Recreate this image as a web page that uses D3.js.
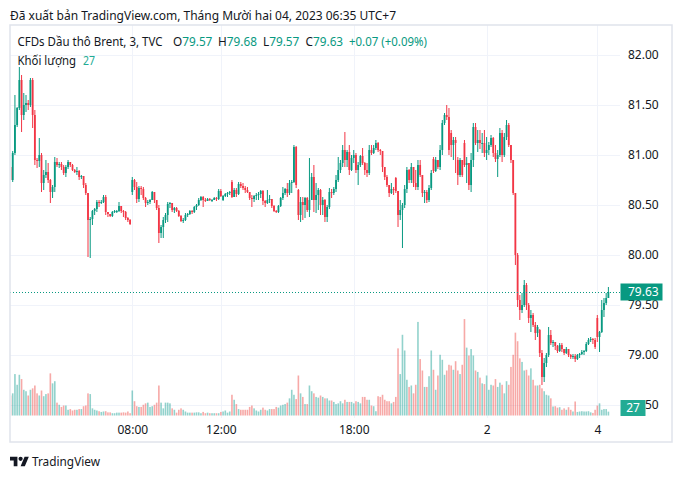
<!DOCTYPE html>
<html><head><meta charset="utf-8">
<script src="https://cdn.jsdelivr.net/npm/d3@7"></script>
<style>body{margin:0;background:#fff}svg{display:block}</style>
</head><body>
<svg id="c" width="682" height="479"></svg>
<script>
// ---- DATA (6-minute aggregation of the 3-min candles; index 0 = 02:30 Dec 1, 265 = 06:00 Dec 4) ----
const opens = [80.88,80.75,81.02,81.30,81.47,81.75,81.40,81.50,81.52,81.50,81.75,81.40,80.95,80.94,81.00,80.72,80.80,80.83,80.75,80.63,
80.68,80.93,80.90,80.91,80.88,80.82,80.88,80.93,80.90,80.85,80.83,80.84,80.78,80.79,80.70,80.62,80.35,80.36,80.44,80.46,
80.53,80.52,80.53,80.58,80.43,80.41,80.39,80.43,80.44,80.44,80.49,80.44,80.43,80.37,80.35,80.63,80.75,80.68,80.56,80.67,
80.66,80.57,80.52,80.53,80.55,80.63,80.55,80.47,80.22,80.28,80.35,80.40,80.51,80.52,80.45,80.47,80.44,80.39,80.34,80.35,
80.40,80.41,80.44,80.43,80.48,80.50,80.55,80.58,80.55,80.54,80.56,80.55,80.55,80.57,80.56,80.64,80.55,80.59,80.61,80.62,
80.73,80.58,80.65,80.61,80.71,80.69,80.67,80.65,80.63,80.57,80.56,80.59,80.60,80.61,80.64,80.54,80.52,80.55,80.56,80.49,
80.44,80.43,80.49,80.57,80.62,80.66,80.62,80.72,80.73,81.08,80.65,80.40,80.53,80.50,80.57,80.45,80.55,80.78,80.55,80.60,
80.65,80.50,80.55,80.38,80.48,80.63,80.62,80.66,80.75,80.85,80.92,81.05,80.95,81.03,80.85,80.97,81.00,80.85,80.90,80.99,
80.92,80.85,80.82,81.05,81.02,81.07,81.12,81.05,81.04,80.88,80.78,80.70,80.62,80.66,80.77,80.64,80.40,80.45,80.50,80.66,
80.85,80.75,80.88,80.72,80.68,80.90,80.80,80.62,80.63,80.55,80.67,80.96,80.84,80.95,80.88,81.05,81.32,81.40,81.38,81.22,
81.10,81.15,80.95,80.80,80.95,81.12,80.90,80.92,80.70,80.95,81.28,81.12,81.15,81.12,81.12,81.02,81.05,81.10,81.17,81.02,
80.96,81.00,81.22,81.00,81.18,81.30,81.10,80.95,80.62,80.00,79.55,79.45,79.50,79.70,79.50,79.37,79.40,79.30,79.22,79.25,
79.02,78.78,78.92,79.00,79.20,79.12,79.13,79.09,79.04,79.10,79.06,79.02,79.06,79.00,78.98,78.99,78.96,79.00,79.01,79.03,
79.04,79.11,79.15,79.16,79.15,79.37,79.18,79.23,79.45,79.52,79.57];
const highs = [80.92,81.04,81.60,81.48,81.88,81.80,81.62,81.60,81.55,81.77,81.77,81.45,80.97,81.17,81.02,80.85,80.95,80.92,80.76,80.70,
80.98,80.97,80.93,80.93,80.90,80.90,80.95,80.93,80.91,80.86,80.88,80.85,80.80,80.79,80.72,80.62,80.38,80.45,80.47,80.55,
80.55,80.55,80.60,80.60,80.43,80.41,80.44,80.45,80.45,80.53,80.49,80.45,80.44,80.38,80.36,80.78,80.76,80.73,80.69,80.69,
80.68,80.58,80.55,80.56,80.64,80.63,80.55,80.50,80.30,80.38,80.42,80.53,80.53,80.52,80.48,80.48,80.45,80.40,80.37,80.42,
80.42,80.45,80.45,80.49,80.51,80.57,80.59,80.59,80.57,80.57,80.57,80.56,80.58,80.58,80.66,80.66,80.60,80.62,80.63,80.64,
80.75,80.67,80.67,80.73,80.73,80.72,80.69,80.68,80.63,80.60,80.60,80.62,80.63,80.65,80.65,80.55,80.65,80.60,80.56,80.50,
80.45,80.50,80.58,80.68,80.67,80.72,80.75,80.75,81.10,81.09,80.66,80.58,80.58,80.58,80.58,80.97,80.82,80.90,80.72,80.67,
80.66,80.58,80.56,80.50,80.67,80.66,80.68,80.80,80.98,80.95,81.10,81.23,81.05,81.10,81.00,81.05,81.02,80.93,81.00,81.07,
80.93,80.92,81.10,81.10,81.10,81.15,81.13,81.06,81.04,80.88,80.80,80.70,80.72,80.68,80.78,80.64,80.55,80.52,80.70,80.88,
80.86,80.92,80.88,80.85,80.95,80.95,80.80,80.65,80.65,80.70,80.85,80.98,80.98,80.95,81.10,81.35,81.42,81.50,81.47,81.25,
81.18,81.18,80.98,80.97,80.95,81.15,80.98,80.92,81.02,81.32,81.32,81.25,81.25,81.22,81.25,81.18,81.13,81.20,81.18,81.10,
81.05,81.27,81.25,81.22,81.35,81.32,81.10,80.95,80.62,80.02,79.60,79.62,79.75,79.72,79.52,79.45,79.42,79.33,79.30,79.26,
79.05,78.97,79.02,79.28,79.25,79.15,79.13,79.10,79.12,79.12,79.06,79.08,79.06,79.01,79.01,79.01,79.01,79.02,79.05,79.05,
79.13,79.17,79.18,79.17,79.17,79.40,79.24,79.55,79.57,79.62,79.68];
const lows = [80.73,80.73,81.00,81.28,81.45,81.23,81.35,81.43,81.45,81.48,81.27,80.90,80.87,80.88,80.63,80.65,80.77,80.72,80.52,80.57,
80.63,80.88,80.87,80.85,80.80,80.78,80.86,80.88,80.84,80.82,80.80,80.75,80.76,80.67,80.60,79.98,79.97,80.30,80.40,80.43,
80.48,80.51,80.52,80.40,80.38,80.38,80.38,80.42,80.42,80.43,80.42,80.38,80.35,80.33,80.30,80.60,80.65,80.52,80.53,80.60,
80.55,80.48,80.50,80.51,80.55,80.52,80.45,80.12,80.17,80.17,80.32,80.33,80.47,80.43,80.42,80.43,80.38,80.33,80.32,80.34,
80.38,80.40,80.41,80.42,80.45,80.49,80.54,80.48,80.53,80.54,80.54,80.53,80.55,80.54,80.55,80.58,80.54,80.58,80.58,80.60,
80.57,80.58,80.58,80.60,80.67,80.65,80.62,80.62,80.55,80.48,80.53,80.55,80.55,80.57,80.50,80.48,80.51,80.52,80.47,80.43,
80.42,80.42,80.48,80.55,80.60,80.58,80.60,80.62,80.72,80.67,80.35,80.33,80.35,80.37,80.43,80.38,80.55,80.43,80.42,80.45,
80.40,80.40,80.33,80.33,80.46,80.57,80.60,80.63,80.73,80.82,80.88,80.88,80.88,80.80,80.84,80.92,80.82,80.70,80.88,80.90,
80.80,80.78,80.80,81.00,81.01,81.05,81.03,81.00,80.83,80.75,80.68,80.58,80.61,80.60,80.62,80.28,80.35,80.07,80.47,80.62,
80.72,80.72,80.68,80.65,80.65,80.78,80.58,80.52,80.52,80.53,80.65,80.82,80.83,80.86,80.85,81.00,81.30,81.35,81.00,80.98,
80.95,80.82,80.70,80.78,80.78,80.88,80.72,80.65,80.63,80.88,81.10,81.03,81.06,81.02,80.98,80.95,81.00,81.08,80.98,80.93,
80.78,80.98,80.93,80.98,81.15,81.08,80.92,80.60,79.90,79.48,79.35,79.42,79.48,79.45,79.32,79.23,79.28,79.15,79.18,78.98,
78.70,78.73,78.88,78.98,79.10,79.08,79.05,79.02,79.03,79.03,79.00,79.01,78.98,78.96,78.96,78.93,78.95,78.97,79.00,79.00,
79.03,79.10,79.13,79.11,79.06,79.13,79.03,79.22,79.38,79.50,79.57];
const closes = [80.75,81.02,81.30,81.47,81.75,81.40,81.50,81.52,81.50,81.75,81.40,80.95,80.94,81.00,80.72,80.80,80.83,80.75,80.63,80.68,
80.93,80.90,80.91,80.88,80.82,80.88,80.93,80.90,80.85,80.83,80.84,80.78,80.79,80.70,80.62,80.35,80.36,80.44,80.46,80.53,
80.52,80.53,80.58,80.43,80.41,80.39,80.43,80.44,80.44,80.49,80.44,80.43,80.37,80.35,80.31,80.75,80.68,80.56,80.67,80.66,
80.57,80.52,80.53,80.55,80.63,80.55,80.47,80.22,80.28,80.35,80.40,80.51,80.52,80.45,80.47,80.44,80.39,80.34,80.35,80.40,
80.41,80.44,80.43,80.48,80.50,80.55,80.58,80.55,80.54,80.56,80.55,80.55,80.57,80.56,80.64,80.59,80.59,80.61,80.62,80.63,
80.58,80.65,80.61,80.71,80.69,80.67,80.65,80.63,80.57,80.56,80.59,80.60,80.61,80.64,80.54,80.52,80.55,80.56,80.49,80.44,
80.43,80.49,80.57,80.62,80.66,80.62,80.72,80.73,81.08,80.70,80.40,80.53,80.50,80.57,80.45,80.55,80.78,80.55,80.60,80.65,
80.50,80.55,80.38,80.48,80.63,80.62,80.66,80.75,80.85,80.92,81.05,80.95,81.03,80.85,80.97,81.00,80.85,80.90,80.99,80.92,
80.85,80.82,81.05,81.02,81.07,81.12,81.05,81.04,80.88,80.78,80.70,80.62,80.66,80.65,80.64,80.40,80.45,80.50,80.66,80.85,
80.75,80.88,80.72,80.68,80.90,80.80,80.62,80.63,80.55,80.67,80.82,80.84,80.95,80.88,81.05,81.32,81.40,81.38,81.05,81.10,
81.15,81.12,80.80,80.95,80.80,80.90,80.92,80.70,80.95,81.28,81.12,81.15,81.12,81.12,81.02,81.05,81.10,81.17,81.02,80.96,
81.00,81.22,81.00,81.18,81.30,81.10,80.95,80.62,80.00,79.55,79.45,79.50,79.70,79.50,79.37,79.40,79.30,79.22,79.28,79.02,
78.78,78.92,79.00,79.20,79.12,79.13,79.09,79.04,79.10,79.06,79.02,79.06,79.00,78.98,78.99,78.96,79.00,79.01,79.03,79.04,
79.11,79.15,79.16,79.15,79.08,79.18,79.23,79.45,79.52,79.57,79.63];
const volumes = [140,155,290,215,285,255,180,170,140,180,190,210,155,140,175,135,150,155,295,225,
240,90,75,60,70,70,40,45,35,40,40,45,45,65,70,155,150,50,40,35,
30,25,28,30,22,22,16,16,20,20,20,22,20,28,16,175,100,65,60,60,
75,85,90,60,65,75,90,210,90,50,90,90,85,50,40,20,40,50,40,28,
20,20,20,20,22,22,16,25,16,20,16,16,16,16,16,25,28,35,20,28,
145,110,80,45,40,40,40,40,60,70,50,35,28,40,55,40,35,45,45,45,
60,55,70,75,80,90,120,180,145,115,280,155,130,80,80,210,170,155,130,125,
140,130,120,120,105,105,95,80,85,100,85,110,95,95,95,85,100,95,85,130,
130,110,110,70,65,30,135,130,145,110,100,100,85,95,130,470,290,565,455,250,
200,210,155,215,655,395,315,200,200,275,455,320,180,280,425,390,285,315,355,350,
320,380,315,290,355,675,475,420,465,420,315,305,265,225,220,280,180,215,210,255,
200,230,215,155,240,215,340,425,580,520,400,375,315,320,280,330,250,210,210,215,
190,170,145,140,120,63,65,55,58,40,50,40,58,40,28,98,25,28,30,28,
28,30,22,18,40,70,85,40,45,45,27];
const timeTickIdx = [55, 95, 155, 215, 265];
const timeTickLabels = ["08:00", "12:00", "18:00", "2", "4"];
const priceTicks = [82, 81.5, 81, 80.5, 80, 79.5, 79, 78.5];
const lastPrice = 79.63, lastVolume = 27;

// ---- DRAW ----
const FONT = "'Noto Sans', 'DejaVu Sans', sans-serif";
const UP = "#089981", DOWN = "#f23645", UPV = "rgba(38,166,154,0.5)", DOWNV = "rgba(239,83,80,0.5)";
const TXT = "#131722";
const svg = d3.select("#c");
svg.append("rect").attr("width", 682).attr("height", 479).attr("fill", "#fff");

const x = d3.scaleLinear().domain([0, 270]).range([10.5, 608.4]);
const y = d3.scaleLinear().domain([78.5, 82]).range([405, 55]);
const yv = d3.scaleLinear().domain([0, 700]).range([415.5, 315.5]);
const PL = 10, PR = 620, PT = 25, PB = 418;

// grid
const grid = svg.append("g");
grid.selectAll("line.h").data(priceTicks).join("line")
  .attr("x1", PL).attr("x2", PR)
  .attr("y1", d => Math.round(y(d)) + 0.5).attr("y2", d => Math.round(y(d)) + 0.5)
  .attr("stroke", "#f0f3fa").attr("stroke-width", 1);
grid.selectAll("line.v").data(timeTickIdx).join("line")
  .attr("x1", d => Math.round(x(d)) + 0.5).attr("x2", d => Math.round(x(d)) + 0.5)
  .attr("y1", PT).attr("y2", PB)
  .attr("stroke", "#f0f3fa").attr("stroke-width", 1);

svg.append("clipPath").attr("id", "plot").append("rect")
  .attr("x", PL + 1).attr("y", PT).attr("width", PR - PL - 1).attr("height", PB - PT);

const data = closes.map((c, i) => ({i, o: opens[i], h: highs[i], l: lows[i], c, v: volumes[i]}));
const plot = svg.append("g").attr("clip-path", "url(#plot)");

// volume
plot.append("g").selectAll("rect").data(data).join("rect")
  .attr("x", d => x(d.i) - 0.8).attr("width", 1.6)
  .attr("y", d => yv(d.v)).attr("height", d => yv(0) - yv(d.v))
  .attr("fill", d => d.c >= d.o ? UPV : DOWNV);

// candles
const cg = plot.append("g");
cg.selectAll("line").data(data).join("line")
  .attr("x1", d => x(d.i)).attr("x2", d => x(d.i))
  .attr("y1", d => y(d.h)).attr("y2", d => y(d.l))
  .attr("stroke", d => d.c >= d.o ? UP : DOWN).attr("stroke-width", 1);
cg.selectAll("rect").data(data).join("rect")
  .attr("x", d => x(d.i) - 0.9).attr("width", 1.8)
  .attr("y", d => y(Math.max(d.o, d.c)))
  .attr("height", d => Math.max(1, Math.abs(y(d.o) - y(d.c))))
  .attr("fill", d => d.c >= d.o ? UP : DOWN);

// last price dotted line
svg.append("line").attr("x1", PL).attr("x2", PR)
  .attr("y1", Math.round(y(lastPrice)) + 0.5).attr("y2", Math.round(y(lastPrice)) + 0.5)
  .attr("stroke", UP).attr("stroke-width", 1).attr("stroke-dasharray", "1,2");

// price axis
const pa = svg.append("g").attr("transform", "translate(628,0)")
  .call(d3.axisRight(y).tickValues(priceTicks).tickFormat(d3.format(".2f")).tickSize(0).tickPadding(0));
pa.select(".domain").remove();
pa.selectAll("text").attr("font-family", FONT).attr("font-size", 12).attr("fill", TXT);

// time axis
const ta = svg.append("g").attr("transform", `translate(0,${PB})`)
  .call(d3.axisBottom(x).tickValues(timeTickIdx).tickFormat((d, k) => timeTickLabels[k]).tickSize(0).tickPadding(7));
ta.select(".domain").remove();
ta.selectAll("text").attr("font-family", FONT).attr("font-size", 12).attr("fill", TXT);

// last price label
const ly = y(lastPrice);
svg.append("rect").attr("x", 620.5).attr("y", ly - 8.5).attr("width", 42).attr("height", 17).attr("fill", UP);
svg.append("text").attr("x", 628).attr("y", ly).attr("dy", "0.35em").text(lastPrice.toFixed(2))
  .attr("font-family", FONT).attr("font-size", 12).attr("fill", "#fff");
// last volume label
const vy = Math.min(yv(lastVolume), 416 - 8);
svg.append("rect").attr("x", 620.5).attr("y", vy - 8).attr("width", 25).attr("height", 16).attr("fill", "#22ab94");
svg.append("text").attr("x", 633).attr("y", vy).attr("dy", "0.35em").attr("text-anchor", "middle").text(lastVolume)
  .attr("font-family", FONT).attr("font-size", 12).attr("fill", "#fff");

// pane frame
svg.append("rect").attr("x", 10).attr("y", 25).attr("width", 662).attr("height", 417)
  .attr("fill", "none").attr("stroke", "#e0e3eb").attr("stroke-width", 1.5);

// texts
function txt(s, xx, yy, fill, size, len) {
  const t = svg.append("text").attr("x", xx).attr("y", yy).text(s)
    .attr("font-family", FONT).attr("font-size", size || 12).attr("fill", fill || TXT);
  if (len) t.attr("textLength", len).attr("lengthAdjust", "spacingAndGlyphs");
  return t;
}
txt("Đã xuất bản TradingView.com, Tháng Mười hai 04, 2023 06:35 UTC+7", 10, 19.5, TXT, 12.5, 386);
txt("CFDs Dầu thô Brent, 3, TVC", 17.5, 45.7, TXT, 12.5, 145);
const legendKeys = ["O", "H", "L", "C"];
const legendVals = [opens[270], highs[270], lows[270], closes[270]];
const keyX = [173, 218, 263, 305.5];
legendKeys.forEach((k, j) => {
  const t = svg.append("text").attr("x", keyX[j]).attr("y", 45.7)
    .attr("font-family", FONT).attr("font-size", 11.8);
  t.append("tspan").attr("fill", TXT).text(k);
  t.append("tspan").attr("fill", UP).text(legendVals[j].toFixed(2));
});
txt("+0.07 (+0.09%)", 349, 45.7, UP, 12.5, 78);
txt("Khối lượng", 17.5, 64.5, TXT, 12.5, 58.5);
txt(String(lastVolume), 83, 64.5, "#22ab94", 12.5, 12);

// TradingView logo
const logo = svg.append("g").attr("transform", "translate(10,454.6) scale(0.53)").attr("fill", TXT);
logo.append("path").attr("d", "M14 22H7V11H0V4h14v18zM28 22h-8l7.5-18h8L28 22z");
logo.append("circle").attr("cx", 20).attr("cy", 8).attr("r", 4);
txt("TradingView", 32, 465.5, TXT, 13, 68);
</script>
</body></html>
